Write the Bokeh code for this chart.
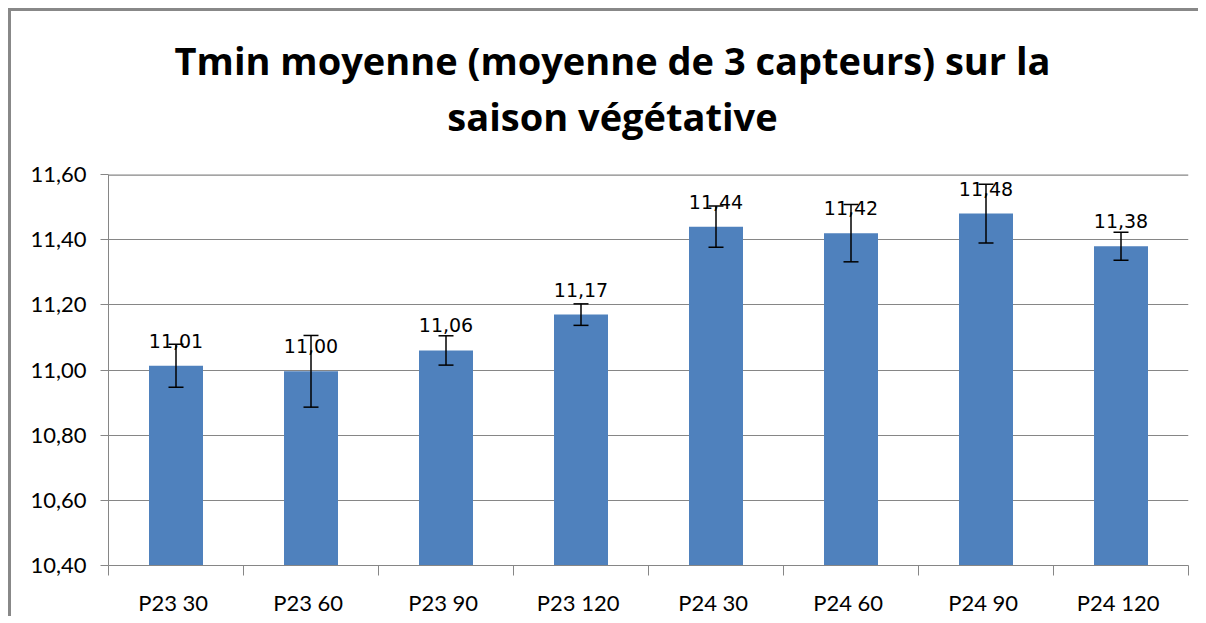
from bokeh.plotting import figure
from bokeh.models import (ColumnDataSource, Whisker, TeeHead, Title, FixedTicker,
                          CustomJSTickFormatter, Span, Range1d)
from bokeh.embed import file_html
from bokeh.resources import INLINE
from bokeh.core.properties import value

# ---- data ----
categories = ["P23  30", "P23  60", "P23  90", "P23  120",
              "P24  30", "P24  60", "P24  90", "P24  120"]
means = [11.013, 10.996, 11.06, 11.17, 11.44, 11.42, 11.48, 11.38]
errors = [0.066, 0.11, 0.045, 0.033, 0.063, 0.088, 0.09, 0.043]
labels = ["11,01", "11,00", "11,06", "11,17", "11,44", "11,42", "11,48", "11,38"]
y_ticks = [10.4, 10.6, 10.8, 11.0, 11.2, 11.4, 11.6]
title_lines = ["Tmin moyenne (moyenne de 3 capteurs) sur la", "saison végétative"]

xs = [i + 0.5 for i in range(len(categories))]
src = ColumnDataSource(dict(
    x=xs, top=means, label=labels,
    upper=[m + e for m, e in zip(means, errors)],
    lower=[m - e for m, e in zip(means, errors)],
))

GRAY = "#868686"
p = figure(width=1190, height=608, output_backend="svg", toolbar_location=None,
           title=None, x_range=Range1d(0, len(categories)),
           y_range=Range1d(y_ticks[0], y_ticks[-1]),
           min_border_left=97, min_border_right=13, min_border_top=163,
           min_border_bottom=54,
           styles={"margin-left": "8px", "margin-top": "8px",
                   "border-top": "3px solid #888888", "border-left": "3px solid #888888"})
p.outline_line_color = None
p.background_fill_color = "white"
p.border_fill_color = "white"

title = Title(text="\n".join(title_lines), align="center", text_align="center",
              text_font="Open Sans", text_font_style="bold", text_font_size="38px",
              text_color="black", text_line_height=1.08, standoff=41,
              padding=dict(left=0, right=72, top=0, bottom=12))
p.add_layout(title, "above")

p.vbar(x="x", top="top", bottom=y_ticks[0], width=0.4, source=src,
       fill_color="#4F81BD", line_color=None)

w = Whisker(base="x", upper="upper", lower="lower", source=src, level="overlay",
            line_color="black", line_width=1.5,
            upper_head=TeeHead(size=15, line_color="black", line_width=1.5),
            lower_head=TeeHead(size=15, line_color="black", line_width=1.5))
p.add_layout(w)

p.text(x="x", y="top", text="label", source=src, text_align="center",
       text_baseline="alphabetic", y_offset=-25, text_font=value("DejaVu Sans"),
       text_font_size="19px", text_color="black")

# grid
p.xgrid.grid_line_color = None
p.ygrid.grid_line_color = GRAY
p.ygrid.grid_line_width = 1
p.add_layout(Span(location=y_ticks[-1], dimension="width", line_color=GRAY, line_width=2.5))

# y axis
p.yaxis.ticker = FixedTicker(ticks=y_ticks)
p.yaxis.formatter = CustomJSTickFormatter(code="return tick.toFixed(2).replace('.', ',');")
p.yaxis.axis_line_color = GRAY
p.yaxis.major_tick_line_color = GRAY
p.yaxis.major_tick_out = 8
p.yaxis.major_tick_in = 0
p.yaxis.minor_tick_line_color = None
p.yaxis.major_label_text_font = "Lato"
p.yaxis.major_label_text_font_size = "22px"
p.yaxis.major_label_text_color = "black"
p.yaxis.major_label_standoff = 14

# x axis
p.xaxis.ticker = FixedTicker(ticks=xs, minor_ticks=list(range(len(categories) + 1)))
p.xaxis.major_label_overrides = {x: c for x, c in zip(xs, categories)}
p.xaxis.axis_line_color = GRAY
p.xaxis.major_tick_line_color = None
p.xaxis.major_tick_out = 0
p.xaxis.major_tick_in = 0
p.xaxis.minor_tick_line_color = GRAY
p.xaxis.minor_tick_out = 10
p.xaxis.minor_tick_in = 0
p.xaxis.major_label_text_font = "Lato"
p.xaxis.major_label_text_font_size = "22px"
p.xaxis.major_label_text_color = "black"
p.xaxis.major_label_standoff = 13

open("out.html", "w").write(file_html(p, INLINE))
